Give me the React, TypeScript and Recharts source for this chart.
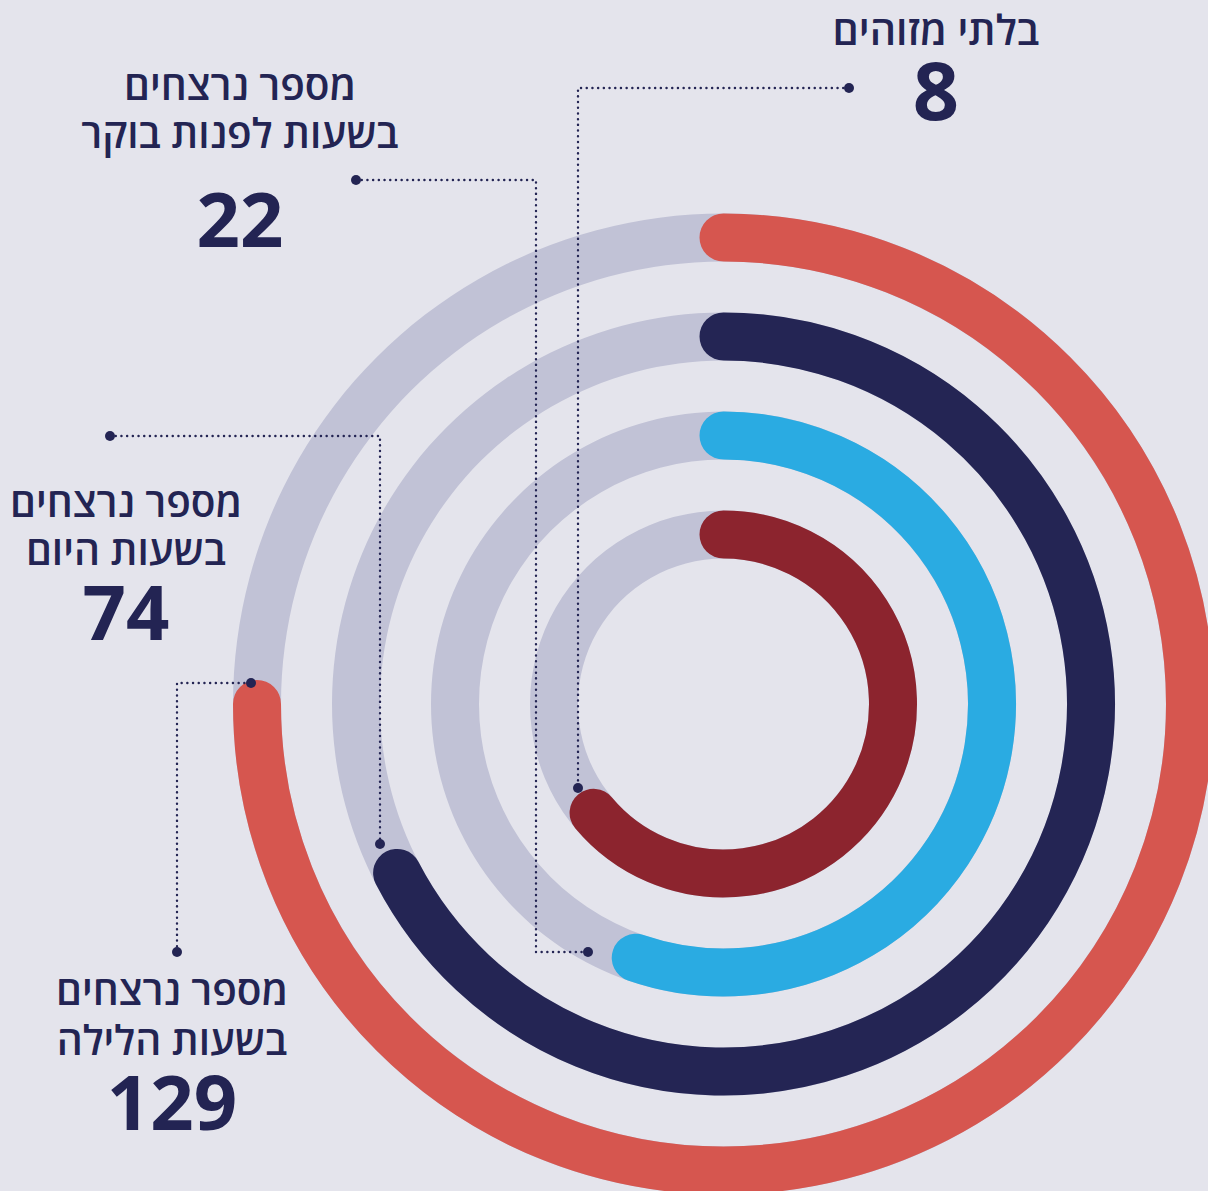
import React from "react";
import { RadialBarChart, RadialBar, PolarAngleAxis, PolarRadiusAxis } from "recharts";

// rings from the inside out
const categories = ["בלתי מזוהים", "בשעות לפנות בוקר", "בשעות היום", "בשעות הלילה"];
const victims = [8, 22, 74, 129];
// share of the full circle each arc covers (%)
const arcShare = [63.9, 55.3, 67.4, 75];

const BG = "#E4E4EC";
const TRACK = "#C1C2D6";
const NAVY = "#232453";
const RING_COLORS = ["#8C242E", "#2AABE2", "#242554", "#D6564F"];
const FONT = '"Open Sans", "Liberation Sans", "DejaVu Sans", sans-serif';

const data = categories.map((name, i) => ({
  name,
  victims: victims[i],
  share: arcShare[i],
  fill: RING_COLORS[i],
}));

const RAD = Math.PI / 180;

// arc drawn as a thick stroke so the round caps sit outside the sector, like the original
// eslint-disable-next-line @typescript-eslint/no-explicit-any
function RoundArc(props: any) {
  const { cx, cy, innerRadius, outerRadius, startAngle, endAngle, fill } = props;
  const r = (innerRadius + outerRadius) / 2;
  const w = outerRadius - innerRadius;
  const x0 = cx + r * Math.cos(-startAngle * RAD);
  const y0 = cy + r * Math.sin(-startAngle * RAD);
  const x1 = cx + r * Math.cos(-endAngle * RAD);
  const y1 = cy + r * Math.sin(-endAngle * RAD);
  const large = Math.abs(endAngle - startAngle) > 180 ? 1 : 0;
  const sweep = startAngle > endAngle ? 1 : 0;
  return (
    <path
      d={`M${x0},${y0} A${r},${r} 0 ${large} ${sweep} ${x1},${y1}`}
      stroke={fill}
      strokeWidth={w}
      fill="none"
      strokeLinecap="round"
    />
  );
}

function Leader({ d, a, b }: { d: string; a: [number, number]; b: [number, number] }) {
  return (
    <g>
      <path d={d} fill="none" stroke={NAVY} strokeWidth={2.4} strokeDasharray="0.1 5.6" strokeLinecap="round" />
      <circle cx={a[0]} cy={a[1]} r={5} fill={NAVY} />
      <circle cx={b[0]} cy={b[1]} r={5} fill={NAVY} />
    </g>
  );
}

function Label({ x, lines, ys, value, vy, size = 40.5, vsize = 76 }: {
  x: number; lines: string[]; ys: number[]; value: number; vy: number; size?: number; vsize?: number;
}) {
  return (
    <g fontFamily={FONT} fill={NAVY} textAnchor="middle">
      {lines.map((t, i) => (
        <text key={i} x={x} y={ys[i]} fontSize={size} fontWeight={600} direction="rtl">{t}</text>
      ))}
      <text x={x} y={vy} fontSize={vsize} fontWeight={700}>{value}</text>
    </g>
  );
}

export default function App() {
  return (
    <div style={{ position: "absolute", left: 0, top: 0, width: 1208, height: 1191, background: BG, overflow: "hidden" }}>
      <RadialBarChart
        width={1208}
        height={1191}
        data={data}
        cx={723.5}
        cy={704}
        innerRadius={119.5}
        outerRadius={515.5}
        startAngle={90}
        endAngle={-270}
        barSize={48}
        margin={{ top: 0, right: 0, bottom: 0, left: 0 }}
      >
        <PolarAngleAxis type="number" domain={[0, 100]} tick={false} axisLine={false} />
        <PolarRadiusAxis type="category" dataKey="name" tick={false} axisLine={false} tickLine={false} />
        <RadialBar dataKey="share" background={{ fill: TRACK }} shape={<RoundArc />} isAnimationActive={false} />
      </RadialBarChart>

      <svg width={1208} height={1191} style={{ position: "absolute", left: 0, top: 0, pointerEvents: "none" }}>
        <Leader d="M849,88 H578 V788" a={[849, 88]} b={[578, 788]} />
        <Leader d="M356,180 H536 V952 H588" a={[356, 180]} b={[588, 952]} />
        <Leader d="M110,436 H380 V844" a={[110, 436]} b={[380, 844]} />
        <Leader d="M177,952 V683 H251" a={[177, 952]} b={[251, 683]} />

        <Label x={936} lines={[categories[0]]} ys={[45]} value={victims[0]} vy={120} size={41} vsize={81} />
        <Label x={240} lines={["מספר נרצחים", categories[1]]} ys={[100, 148]} value={victims[1]} vy={247} />
        <Label x={126} lines={["מספר נרצחים", categories[2]]} ys={[517, 565]} value={victims[2]} vy={640} />
        <Label x={172} lines={["מספר נרצחים", categories[3]]} ys={[1005, 1055]} value={victims[3]} vy={1130} />
      </svg>
    </div>
  );
}
